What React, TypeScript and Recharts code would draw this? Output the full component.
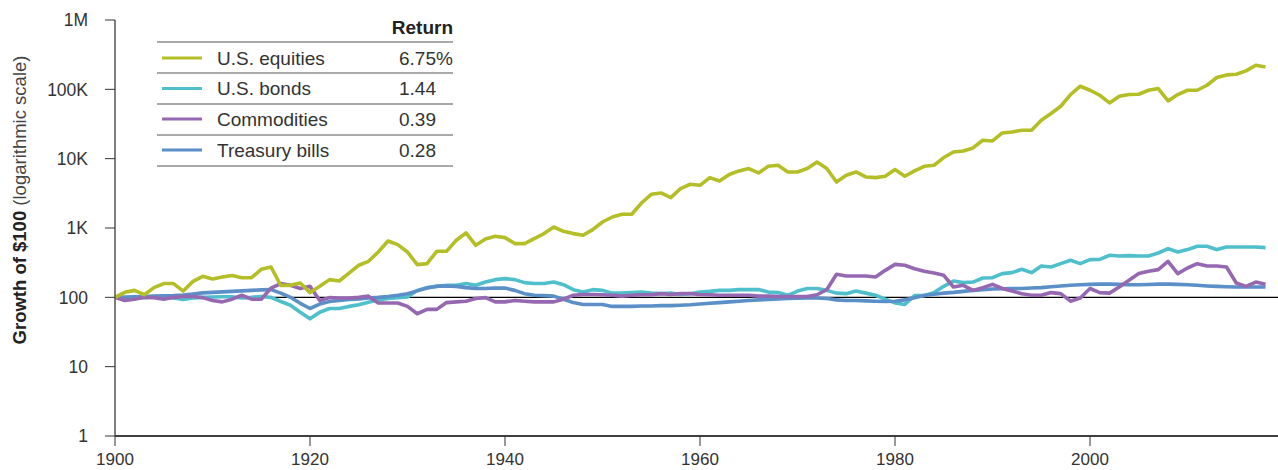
import React from "react";
import { LineChart, Line, XAxis, YAxis, ReferenceLine } from "recharts";

const years: number[] = Array.from({ length: 119 }, (_, i) => 1900 + i);

const equities: number[] = [
  100, 118, 126, 109, 138, 158, 158, 123, 170, 201,
  184, 196, 206, 192, 192, 254, 274, 149, 149, 161,
  117, 144, 180, 172, 224, 290, 331, 450, 649, 576,
  450, 296, 306, 461, 461, 665, 848, 563, 694, 759,
  726, 596, 596, 703, 830, 1033, 896, 830, 785, 948,
  1221, 1442, 1577, 1577, 2295, 3063, 3200, 2745, 3706, 4275,
  4130, 5330, 4762, 5900, 6653, 7200, 6220, 7770, 8035, 6427,
  6427, 7200, 8960, 7200, 4610, 5760, 6427, 5450, 5330, 5570,
  6960, 5570, 6650, 7770, 8035, 10380, 12500, 12920, 14270, 18440,
  18000, 23500, 24280, 25700, 25700, 35800, 44770, 57000, 84100, 110900,
  97000, 82200, 63700, 79400, 84100, 85000, 97000, 102600, 68100, 84100,
  97000, 97000, 114600, 148000, 161500, 165200, 184400, 222800, 210500,
];

const bonds: number[] = [
  100, 98, 97, 99, 101, 100, 98, 93, 98, 100,
  101, 102, 102, 98, 100, 103, 100, 87, 77, 61,
  49, 61, 69, 69, 74, 78, 85, 92, 96, 99,
  101, 126, 138, 144, 149, 149, 158, 149, 166, 180,
  186, 180, 163, 158, 158, 166, 152, 129, 119, 129,
  126, 115, 115, 117, 119, 115, 113, 115, 110, 113,
  119, 122, 126, 126, 129, 129, 130, 119, 117, 107,
  123, 134, 134, 126, 115, 113, 123, 115, 107, 94,
  83, 79, 106, 106, 117, 144, 172, 163, 166, 190,
  192, 220, 227, 254, 227, 283, 274, 306, 342, 306,
  350, 353, 404, 394, 400, 394, 394, 436, 504, 450,
  488, 545, 545, 488, 532, 532, 532, 532, 521,
];

const commodities: number[] = [
  100, 90, 94, 100, 99, 94, 100, 103, 103, 99,
  90, 86, 94, 107, 94, 94, 136, 158, 149, 134,
  144, 90, 99, 98, 98, 100, 104, 83, 83, 83,
  74, 58, 67, 67, 84, 86, 88, 96, 99, 86,
  86, 90, 88, 86, 86, 86, 94, 107, 110, 110,
  109, 107, 104, 107, 109, 109, 113, 110, 113, 113,
  110, 109, 107, 107, 107, 107, 104, 104, 103, 103,
  103, 103, 109, 129, 215, 203, 203, 203, 196, 245,
  299, 290, 259, 237, 224, 208, 141, 149, 126, 138,
  154, 134, 123, 113, 107, 107, 117, 113, 88, 98,
  134, 117, 115, 141, 176, 220, 237, 251, 331, 220,
  265, 306, 283, 283, 274, 161, 144, 166, 154,
];

const bills: number[] = [
  100, 101, 102, 103, 104, 105, 106, 108, 112, 116,
  118, 120, 122, 124, 126, 128, 129, 115, 100, 82,
  69, 80, 87, 90, 93, 95, 98, 100, 103, 107,
  113, 124, 136, 145, 146, 144, 138, 134, 134, 136,
  136, 126, 113, 107, 106, 104, 94, 84, 79, 79,
  79, 74, 74, 74, 75, 75, 76, 76, 77, 78,
  80, 82, 84, 86, 88, 90, 92, 93, 95, 96,
  97, 98, 98, 96, 92, 90, 90, 89, 88, 87,
  88, 92, 99, 106, 111, 115, 118, 122, 126, 129,
  132, 133, 134, 134, 136, 138, 142, 146, 149, 152,
  154, 155, 155, 154, 152, 152, 153, 155, 155, 154,
  152, 149, 146, 144, 142, 141, 141, 141, 141,
];

const seriesNames: string[] = ["U.S. equities", "U.S. bonds", "Commodities", "Treasury bills"];
const seriesReturns: string[] = ["6.75", "1.44", "0.39", "0.28"];
const seriesColors: string[] = ["#b4be26", "#4fbfcc", "#9668b2", "#5b8fc7"];

const yTicks: number[] = [1, 10, 100, 1000, 10000, 100000, 1000000];
const yTickLabels: string[] = ["1", "10", "100", "1K", "10K", "100K", "1M"];
const xTicks: number[] = [1900, 1920, 1940, 1960, 1980, 2000];

const data = years.map((year, i) => ({
  year,
  equities: equities[i],
  bonds: bonds[i],
  commodities: commodities[i],
  bills: bills[i],
}));

const FONT = "'Liberation Sans', Arial, Helvetica, sans-serif";
const LW = 3.6;

export default function App() {
  const rowY = [58, 88.5, 119, 150];
  const lineY = [42, 73, 104, 135, 166];
  return (
    <div style={{ position: "absolute", left: 0, top: 0, width: 1278, height: 470, background: "#fff" }}>
      <LineChart
        width={1278}
        height={470}
        data={data}
        margin={{ top: 20, right: 0, bottom: 4, left: 0 }}
      >
        <XAxis
          dataKey="year"
          type="number"
          domain={[1900, 2019.28]}
          ticks={xTicks}
          allowDataOverflow
          height={30}
          tickSize={10}
          tickMargin={7}
          axisLine={{ stroke: "#000", strokeWidth: 1.5 }}
          tickLine={{ stroke: "#333", strokeWidth: 1 }}
          tick={{ fill: "#333", fontSize: 17, fontFamily: FONT }}
        />
        <YAxis
          scale="log"
          domain={[1, 1000000]}
          ticks={yTicks}
          allowDataOverflow
          width={115}
          tickSize={10}
          tickMargin={17}
          axisLine={{ stroke: "#555", strokeWidth: 1.5 }}
          tickLine={{ stroke: "#333", strokeWidth: 1 }}
          tick={{ fill: "#333", fontSize: 17.5, fontFamily: FONT }}
          tickFormatter={(v: number) => yTickLabels[yTicks.indexOf(v)] ?? String(v)}
        />
        <ReferenceLine y={100} stroke="#000" strokeWidth={1.2} />
        <Line type="linear" dataKey="bonds" stroke={seriesColors[1]} strokeWidth={LW} dot={false} isAnimationActive={false} strokeLinejoin="round" />
        <Line type="linear" dataKey="bills" stroke={seriesColors[3]} strokeWidth={LW} dot={false} isAnimationActive={false} strokeLinejoin="round" />
        <Line type="linear" dataKey="commodities" stroke={seriesColors[2]} strokeWidth={LW} dot={false} isAnimationActive={false} strokeLinejoin="round" />
        <Line type="linear" dataKey="equities" stroke={seriesColors[0]} strokeWidth={LW} dot={false} isAnimationActive={false} strokeLinejoin="round" />
      </LineChart>
      <svg
        width={1278}
        height={470}
        style={{ position: "absolute", left: 0, top: 0, pointerEvents: "none" }}
      >
        <text
          transform="translate(26,200) rotate(-90)"
          textAnchor="middle"
          fontFamily={FONT}
          fontSize={18.5}
          fill="#222"
        >
          <tspan fontWeight={600}>Growth of $100 </tspan>
          <tspan fill="#444">(logarithmic scale)</tspan>
        </text>
        <text x={453} y={27} textAnchor="end" dominantBaseline="central" fontFamily={FONT} fontSize={19} fontWeight={600} fill="#222">
          Return
        </text>
        {lineY.map((ly, i) => (
          <line key={"l" + i} x1={157} x2={453} y1={ly} y2={ly} stroke="#555" strokeWidth={1.2} />
        ))}
        {seriesNames.map((name, i) => (
          <g key={name}>
            <line x1={162} x2={202} y1={rowY[i]} y2={rowY[i]} stroke={seriesColors[i]} strokeWidth={3.2} />
            <text x={217} y={rowY[i]} dominantBaseline="central" fontFamily={FONT} fontSize={19} fill="#333">
              {name}
            </text>
            <text x={436} y={rowY[i]} textAnchor="end" dominantBaseline="central" fontFamily={FONT} fontSize={19} fill="#333">
              {seriesReturns[i]}
            </text>
            {i === 0 && (
              <text x={436} y={rowY[i]} dominantBaseline="central" fontFamily={FONT} fontSize={19} fill="#333">
                %
              </text>
            )}
          </g>
        ))}
      </svg>
    </div>
  );
}
